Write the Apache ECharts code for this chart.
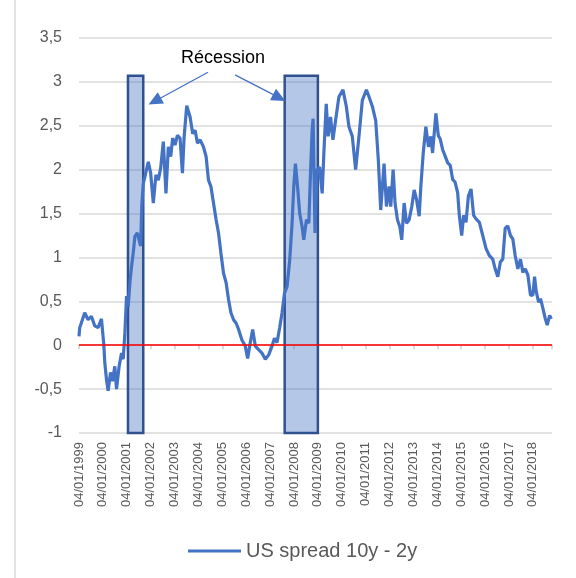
<!DOCTYPE html>
<html>
<head>
<meta charset="utf-8">
<title>US spread 10y - 2y</title>
<script src="https://cdn.jsdelivr.net/npm/echarts@6/dist/echarts.min.js"></script>
<style>
  html, body { margin: 0; padding: 0; background: #fff; }
  #chart { width: 576px; height: 578px; }
</style>
</head>
<body>
<div id="chart"></div>
<script>
// dates as fractional years (1999.0 = 04/01/1999)
var dates = [
  1999.00, 1999.03, 1999.24, 1999.38, 1999.52, 1999.66, 1999.80, 1999.94,
  2000.04, 2000.08, 2000.15, 2000.22, 2000.32, 2000.40, 2000.50, 2000.57,
  2000.68, 2000.78, 2000.85, 2000.92, 2000.99, 2001.06, 2001.13, 2001.20,
  2001.27, 2001.34, 2001.44, 2001.52, 2001.58, 2001.63, 2001.69, 2001.76,
  2001.90, 2002.00, 2002.11, 2002.22, 2002.32, 2002.42, 2002.53, 2002.64,
  2002.74, 2002.84, 2002.92, 2003.02, 2003.12, 2003.23, 2003.33, 2003.40,
  2003.51, 2003.65, 2003.76, 2003.86, 2003.96, 2004.07, 2004.21, 2004.32,
  2004.42, 2004.52, 2004.63, 2004.74, 2004.84, 2004.94, 2005.05, 2005.16,
  2005.26, 2005.36, 2005.47, 2005.58, 2005.68, 2005.82, 2005.96, 2006.06,
  2006.17, 2006.27, 2006.38, 2006.52, 2006.66, 2006.80, 2006.94, 2007.08,
  2007.18, 2007.29, 2007.40, 2007.50, 2007.60, 2007.71, 2007.82, 2007.92,
  2007.99, 2008.06, 2008.16, 2008.24, 2008.34, 2008.41, 2008.52, 2008.62,
  2008.69, 2008.76, 2008.80, 2008.88, 2008.97, 2009.07, 2009.18, 2009.25,
  2009.35, 2009.43, 2009.53, 2009.63, 2009.74, 2009.88, 2010.05, 2010.19,
  2010.30, 2010.44, 2010.58, 2010.72, 2010.86, 2011.03, 2011.14, 2011.28,
  2011.42, 2011.53, 2011.63, 2011.77, 2011.87, 2011.98, 2012.05, 2012.15,
  2012.23, 2012.33, 2012.43, 2012.51, 2012.61, 2012.71, 2012.82, 2012.93,
  2013.03, 2013.13, 2013.24, 2013.31, 2013.41, 2013.52, 2013.63, 2013.73,
  2013.80, 2013.94, 2014.04, 2014.12, 2014.22, 2014.32, 2014.43, 2014.54,
  2014.64, 2014.74, 2014.85, 2014.92, 2015.02, 2015.10, 2015.20, 2015.30,
  2015.41, 2015.52, 2015.62, 2015.76, 2015.90, 2016.04, 2016.18, 2016.32,
  2016.42, 2016.53, 2016.64, 2016.74, 2016.84, 2016.95, 2017.06, 2017.16,
  2017.26, 2017.37, 2017.48, 2017.58, 2017.68, 2017.79, 2017.90, 2018.00,
  2018.07, 2018.14, 2018.24, 2018.32, 2018.42, 2018.52, 2018.60, 2018.70,
  2018.77
];

// US spread 10y - 2y
var spread = [
  0.10, 0.20, 0.37, 0.29, 0.33, 0.22, 0.20, 0.30,
  0.00, -0.20, -0.39, -0.52, -0.31, -0.41, -0.24, -0.50,
  -0.24, -0.09, -0.16, 0.14, 0.56, 0.44, 0.71, 0.90,
  1.05, 1.24, 1.28, 1.30, 1.13, 1.60, 1.84, 1.92,
  2.09, 1.96, 1.62, 1.94, 1.88, 2.02, 2.32, 1.73,
  2.26, 2.15, 2.36, 2.28, 2.39, 2.36, 1.96, 2.37,
  2.73, 2.60, 2.41, 2.45, 2.30, 2.34, 2.26, 2.15,
  1.88, 1.81, 1.62, 1.43, 1.28, 1.05, 0.82, 0.71,
  0.52, 0.37, 0.29, 0.25, 0.18, 0.06, -0.01, -0.15,
  0.03, 0.18, -0.01, -0.05, -0.09, -0.16, -0.11, -0.01,
  0.08, 0.03, 0.20, 0.37, 0.59, 0.67, 0.97, 1.39,
  1.81, 2.07, 1.77, 1.50, 1.35, 1.20, 1.43, 1.39,
  1.96, 2.45, 2.58, 1.28, 2.00, 2.03, 1.73, 2.19,
  2.75, 2.38, 2.60, 2.34, 2.56, 2.83, 2.91, 2.72,
  2.49, 2.38, 2.00, 2.38, 2.79, 2.91, 2.83, 2.72,
  2.56, 2.11, 1.54, 2.07, 1.58, 1.81, 1.58, 2.00,
  1.62, 1.43, 1.35, 1.20, 1.62, 1.39, 1.43, 1.58,
  1.77, 1.66, 1.47, 1.81, 2.19, 2.49, 2.26, 2.38,
  2.19, 2.64, 2.39, 2.35, 2.23, 2.16, 2.08, 2.05,
  1.89, 1.86, 1.74, 1.48, 1.25, 1.48, 1.40, 1.70,
  1.78, 1.48, 1.44, 1.40, 1.25, 1.10, 1.02, 0.98,
  0.87, 0.78, 0.95, 0.98, 1.33, 1.36, 1.25, 1.21,
  1.02, 0.87, 0.98, 0.83, 0.87, 0.80, 0.57, 0.57,
  0.78, 0.61, 0.49, 0.53, 0.42, 0.30, 0.23, 0.34,
  0.30
];

// recession periods [start, end] and the height of the boxes
var recessions = [[2001.05, 2001.69], [2007.61, 2009.0]];
var boxTop = 3.07;
var boxBottom = -1;

// x tick labels
var tickYears = [1999, 2000, 2001, 2002, 2003, 2004, 2005, 2006, 2007, 2008,
  2009, 2010, 2011, 2012, 2013, 2014, 2015, 2016, 2017, 2018];

var font = "'Liberation Sans', Arial, sans-serif";

var lineData = [];
for (var i = 0; i < dates.length; i++) {
  lineData.push([dates[i], spread[i]]);
}

var areas = [];
for (var r = 0; r < recessions.length; r++) {
  areas.push([
    { xAxis: recessions[r][0], yAxis: boxBottom },
    { xAxis: recessions[r][1], yAxis: boxTop }
  ]);
}

function yearLabel(v) {
  var y = Math.round(v);
  if (Math.abs(v - y) > 0.001 || tickYears.indexOf(y) < 0) return '';
  return '04/01/' + y;
}

var chart = echarts.init(document.getElementById('chart'), null, { renderer: 'canvas' });

var arrowStyle = { color: '#4472c4', width: 1.3, type: 'solid' };

var option = {
  backgroundColor: '#fff',
  animation: false,
  textStyle: { fontFamily: font },
  grid: { left: 79, right: 24, top: 38, bottom: 145 },
  legend: {
    left: 183,
    top: 536,
    icon: 'rect',
    itemWidth: 53,
    itemHeight: 3,
    textStyle: { fontSize: 20, color: '#595959', fontFamily: font },
    data: ['US spread 10y - 2y']
  },
  xAxis: [{
    type: 'value',
    min: 1999,
    max: 2018.8,
    interval: 1,
    axisLine: { show: false, onZero: false },
    axisTick: { show: false },
    splitLine: { show: false },
    axisLabel: {
      rotate: 90,
      margin: 9,
      fontSize: 13,
      color: '#595959',
      showMaxLabel: false,
      formatter: yearLabel
    }
  }, {
    // axis line with tick marks sitting on 0
    type: 'value',
    min: 1999,
    max: 2018.8,
    interval: 1,
    position: 'bottom',
    axisLine: { show: true, onZero: true, lineStyle: { color: '#d9d9d9', width: 1.5 } },
    axisTick: { show: true, length: 4, inside: false, lineStyle: { color: '#cfcfcf', width: 1.5 } },
    axisLabel: { show: false },
    splitLine: { show: false }
  }],
  yAxis: {
    type: 'value',
    min: -1,
    max: 3.5,
    interval: 0.5,
    axisLine: { show: false },
    axisTick: { show: false },
    splitLine: { lineStyle: { color: '#d9d9d9', width: 1.5 } },
    axisLabel: {
      fontSize: 16,
      color: '#595959',
      margin: 17,
      formatter: function (v) { return String(v).replace('.', ','); }
    }
  },
  series: [{
    name: 'US spread 10y - 2y',
    type: 'line',
    data: lineData,
    showSymbol: false,
    symbol: 'none',
    color: '#4472c4',
    lineStyle: { color: '#4472c4', width: 3.2 },
    markArea: {
      silent: true,
      itemStyle: {
        color: 'rgba(68,114,196,0.4)',
        borderColor: '#2f528f',
        borderWidth: 2.5
      },
      data: areas
    },
    markLine: {
      silent: true,
      animation: false,
      symbol: ['none', 'none'],
      label: { show: false },
      data: [
        { yAxis: 0, lineStyle: { color: '#ff0000', width: 1.5, type: 'solid' } },
        [
          { coord: [2004.40, 3.11], symbol: 'none', lineStyle: arrowStyle },
          { coord: [2002.17, 2.78], symbol: 'triangle', symbolSize: [13, 14] }
        ],
        [
          { coord: [2005.53, 3.08], symbol: 'none', lineStyle: arrowStyle },
          { coord: [2007.38, 2.82], symbol: 'triangle', symbolSize: [13, 14] }
        ]
      ]
    },
    markPoint: {
      silent: true,
      data: [{
        coord: [2005.03, 3.27],
        symbol: 'circle',
        symbolSize: 0,
        label: {
          show: true,
          position: 'inside',
          formatter: 'Récession',
          fontSize: 18,
          color: '#000',
          fontFamily: font
        }
      }]
    }
  }],
  graphic: [{
    type: 'line',
    shape: { x1: 15, y1: 0, x2: 15, y2: 578 },
    style: { stroke: '#d9d9d9', lineWidth: 1.5 },
    silent: true
  }]
};

chart.setOption(option);
</script>
</body>
</html>
